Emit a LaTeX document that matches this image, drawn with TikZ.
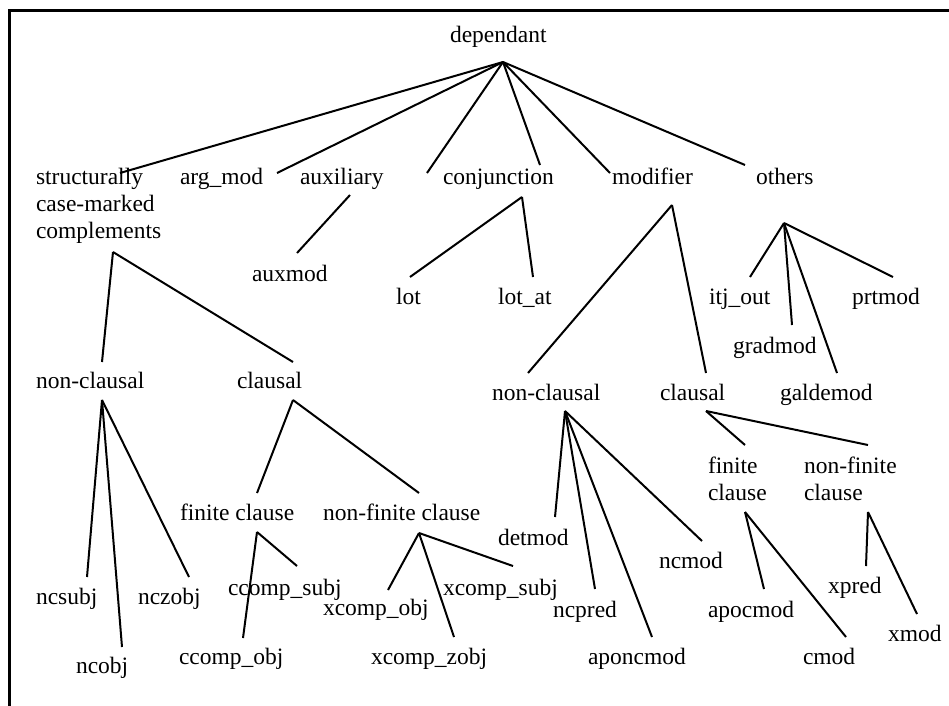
\documentclass[tikz,border=0pt]{standalone}
\usepackage{fontspec}
\setmainfont{Liberation Serif}
\begin{document}
\begin{tikzpicture}[x=1pt,y=-1pt,
  lbl/.style={anchor=base west,inner sep=0pt,outer sep=0pt,font=\fontsize{23.5}{27}\selectfont},
  edge/.style={line width=2pt,black},
  frame/.style={line width=3pt,black}]
\useasboundingbox (0,0) rectangle (949,705);
\newcommand{\twolines}[2]{\vtop{\baselineskip=27pt\hbox{#1}\hbox{#2}}}
% frame
\coordinate (fr-tr) at (949,10);
\coordinate (fr-tl) at (9,10);
\coordinate (fr-bl) at (9,706);
\draw[frame] (fr-tr) -- (fr-tl) -- (fr-bl);
% nodes
\node[lbl] (dep) at (450,42) {dependant};
\node[lbl] (sc) at (36,184) {\vtop{\baselineskip=27pt\hbox{structurally}\hbox{case-marked}\hbox{complements}}};
\node[lbl] (argmod) at (180,184) {arg\_mod};
\node[lbl] (aux) at (300,184) {auxiliary};
\node[lbl] (conj) at (443,184) {conjunction};
\node[lbl] (mod) at (612,184) {modifier};
\node[lbl] (oth) at (756,184) {others};
\node[lbl] (auxmod) at (252,281) {auxmod};
\node[lbl] (lot) at (396,304) {lot};
\node[lbl] (lotat) at (498,304) {lot\_at};
\node[lbl] (itj) at (709,304) {itj\_out};
\node[lbl] (prt) at (852,304) {prtmod};
\node[lbl] (grad) at (733,353) {gradmod};
\node[lbl] (gald) at (780,400) {galdemod};
\node[lbl] (mnc) at (492,400) {non-clausal};
\node[lbl] (mcl) at (660,400) {clausal};
\node[lbl] (snc) at (36,388) {non-clausal};
\node[lbl] (scl) at (237,388) {clausal};
\node[lbl] (fc) at (180,520) {finite clause};
\node[lbl] (nfc) at (323,520) {non-finite clause};
\node[lbl] (ncsubj) at (36,604) {ncsubj};
\node[lbl] (ncobj) at (76,673) {ncobj};
\node[lbl] (nczobj) at (138,604) {nczobj};
\node[lbl] (ccsubj) at (228,595) {ccomp\_subj};
\node[lbl] (ccobj) at (179,664) {ccomp\_obj};
\node[lbl] (xcobj) at (323,615) {xcomp\_obj};
\node[lbl] (xczobj) at (371,664) {xcomp\_zobj};
\node[lbl] (xcsubj) at (443,595) {xcomp\_subj};
\node[lbl] (detmod) at (498,545) {detmod};
\node[lbl] (ncpred) at (553,617) {ncpred};
\node[lbl] (aponcmod) at (588,664) {aponcmod};
\node[lbl] (ncmod) at (659,568) {ncmod};
\node[lbl] (mfc) at (708,473) {\twolines{finite}{clause}};
\node[lbl] (mnfc) at (804,473) {\twolines{non-finite}{clause}};
\node[lbl] (apocmod) at (708,617) {apocmod};
\node[lbl] (cmod) at (803,664) {cmod};
\node[lbl] (xpred) at (828,593) {xpred};
\node[lbl] (xmod) at (888,641) {xmod};
% connector end points
\coordinate (dep-o) at (503,62);
\coordinate (sc-i) at (120,173);
\coordinate (argmod-i) at (277,173);
\coordinate (aux-i) at (427,173);
\coordinate (conj-i) at (540,165);
\coordinate (mod-i) at (610,173);
\coordinate (oth-i) at (745,165);
\coordinate (aux-o) at (350,195);
\coordinate (auxmod-i) at (297,253);
\coordinate (conj-o) at (522,197);
\coordinate (lot-i) at (410,277);
\coordinate (lotat-i) at (533,277);
\coordinate (mod-o) at (672,205);
\coordinate (mnc-i) at (528,373);
\coordinate (mcl-i) at (706,373);
\coordinate (oth-o) at (784,223);
\coordinate (itj-i) at (750,277);
\coordinate (grad-i) at (792,325);
\coordinate (gald-i) at (837,373);
\coordinate (prt-i) at (893,277);
\coordinate (sc-o) at (113,252);
\coordinate (snc-i) at (102,362);
\coordinate (scl-i) at (293,362);
\coordinate (snc-o) at (102,400);
\coordinate (ncsubj-i) at (87,577);
\coordinate (ncobj-i) at (122,647);
\coordinate (nczobj-i) at (189,577);
\coordinate (scl-o) at (293,400);
\coordinate (fc-i) at (257,493);
\coordinate (nfc-i) at (419,493);
\coordinate (fc-o) at (257,532);
\coordinate (ccsubj-i) at (297,566);
\coordinate (ccobj-i) at (243,638);
\coordinate (nfc-o) at (419,533);
\coordinate (xcobj-i) at (388,590);
\coordinate (xczobj-i) at (454,637);
\coordinate (xcsubj-i) at (513,566);
\coordinate (mnc-o) at (565,411);
\coordinate (detmod-i) at (555,517);
\coordinate (ncpred-i) at (595,589);
\coordinate (aponcmod-i) at (652,637);
\coordinate (ncmod-i) at (702,541);
\coordinate (mcl-o) at (706,411);
\coordinate (mfc-i) at (745,445);
\coordinate (mnfc-i) at (868,445);
\coordinate (mfc-o) at (745,512);
\coordinate (apocmod-i) at (764,589);
\coordinate (cmod-i) at (846,637);
\coordinate (mnfc-o) at (868,512);
\coordinate (xpred-i) at (866,566);
\coordinate (xmod-i) at (917,614);
% connectors
\foreach \a/\b in {dep-o/sc-i, dep-o/argmod-i, dep-o/aux-i, dep-o/conj-i, dep-o/mod-i, dep-o/oth-i,
  aux-o/auxmod-i, conj-o/lot-i, conj-o/lotat-i, mod-o/mnc-i, mod-o/mcl-i,
  oth-o/itj-i, oth-o/grad-i, oth-o/gald-i, oth-o/prt-i,
  sc-o/snc-i, sc-o/scl-i, snc-o/ncsubj-i, snc-o/ncobj-i, snc-o/nczobj-i,
  scl-o/fc-i, scl-o/nfc-i, fc-o/ccsubj-i, fc-o/ccobj-i,
  nfc-o/xcobj-i, nfc-o/xczobj-i, nfc-o/xcsubj-i,
  mnc-o/detmod-i, mnc-o/ncpred-i, mnc-o/aponcmod-i, mnc-o/ncmod-i,
  mcl-o/mfc-i, mcl-o/mnfc-i, mfc-o/apocmod-i, mfc-o/cmod-i,
  mnfc-o/xpred-i, mnfc-o/xmod-i}
  \draw[edge] (\a) -- (\b);
\end{tikzpicture}
\end{document}
